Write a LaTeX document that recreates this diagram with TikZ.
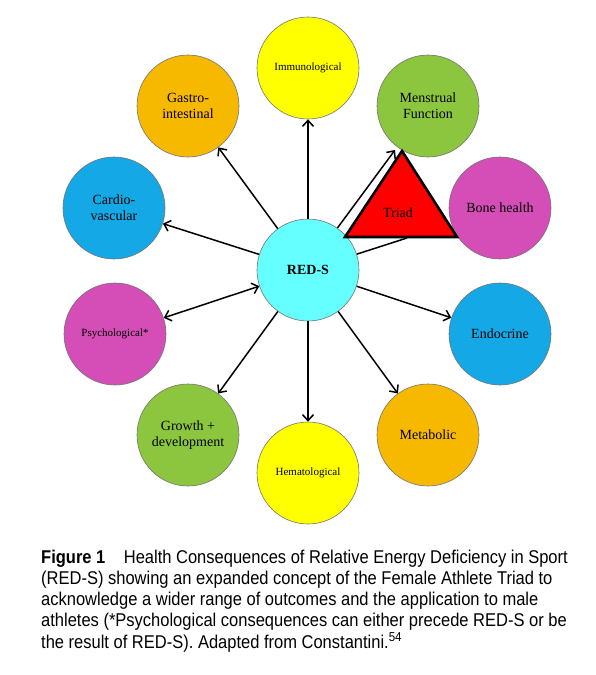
\documentclass[tikz,border=0pt]{standalone}
\usepackage{fontspec}
\setmainfont{Liberation Serif}
\newfontfamily\capfont[FakeStretch=0.892]{Liberation Sans}
\usetikzlibrary{arrows.meta}
\definecolor{cyanR}{HTML}{66FFFF}
\definecolor{yel}{HTML}{FFFF00}
\definecolor{org}{HTML}{F7B900}
\definecolor{grn}{HTML}{8CC63F}
\definecolor{mag}{HTML}{D54DB6}
\definecolor{blu}{HTML}{14A9E6}
\definecolor{triadred}{HTML}{FF0000}
\tikzset{
  bub/.style={circle, draw=black!55, line width=0.6pt, minimum size=102pt, inner sep=0pt,
    align=center, font=\fontsize{14}{16}\selectfont},
  smalltxt/.style={font=\fontsize{11}{13}\selectfont},
  arr/.style={line width=1.5pt, -{Straight Barb[length=6pt,width=11pt,line width=1.5pt]}},
  darr/.style={line width=1.5pt, {Straight Barb[length=6pt,width=11pt,line width=1.5pt]}-{Straight Barb[length=6pt,width=11pt,line width=1.5pt]}},
  plain/.style={line width=1.5pt},
  triadshape/.style={fill=triadred, draw=black, line width=2.6pt, line join=miter},
  captxt/.style={anchor=base west, inner sep=0pt, font=\capfont\fontsize{18.5}{21}\selectfont}
}
\begin{document}
\begin{tikzpicture}[x=1pt,y=-1pt]
\useasboundingbox (0,0) rectangle (595,675);
\fill[white] (0,0) rectangle (595,675);
% circles
\node[bub, fill=cyanR, font=\bfseries\fontsize{14}{16}\selectfont] (reds) at (308,270) {RED-S};
\node[bub, fill=yel, smalltxt] (imm) at (308,68) {Immunological};
\node[bub, fill=org] (gas) at (188,106) {Gastro-\\intestinal};
\node[bub, fill=grn] (men) at (428,106) {Menstrual\\Function};
\node[bub, fill=blu] (car) at (114,208) {Cardio-\\vascular};
\node[bub, fill=mag] (bone) at (500,208) {Bone health};
\node[bub, fill=mag, smalltxt] (psy) at (115,334) {Psychological*};
\node[bub, fill=blu] (endo) at (500,334) {Endocrine};
\node[bub, fill=grn] (gro) at (188,435) {Growth +\\development};
\node[bub, fill=yel, smalltxt] (hem) at (308,473) {Hematological};
\node[bub, fill=org] (met) at (428,435) {Metabolic};
% connectors
\draw[arr] (reds) -- (imm);
\draw[arr] (reds) -- (gas);
\draw[arr] (reds) -- (car);
\draw[darr] (reds) -- (psy);
\draw[arr] (reds) -- (gro);
\draw[arr] (reds) -- (hem);
\draw[arr] (reds) -- (met);
\draw[arr] (reds) -- (endo);
\coordinate (mtip) at (395,150);
\draw[arr] (reds.55) -- (mtip);
\coordinate (bend) at (407,238);
\draw[plain] (reds.18) -- (bend);
% triad
\coordinate (t1) at (345,237);
\coordinate (t2) at (457,237);
\coordinate (t3) at (402,151);
\draw[triadshape] (t1) -- (t2) -- (t3) -- cycle;
\node[font=\fontsize{14}{16}\selectfont] (triad) at (398,213) {Triad};
% caption
\node[captxt] (cap1) at (41,563) {\textbf{Figure 1}\quad Health Consequences of Relative Energy Deficiency in Sport};
\node[captxt] (cap2) at (41,584.3) {(RED-S) showing an expanded concept of the Female Athlete Triad to};
\node[captxt] (cap3) at (41,605.6) {acknowledge a wider range of outcomes and the application to male};
\node[captxt] (cap4) at (41,626.9) {athletes (*Psychological consequences can either precede RED-S or be};
\node[captxt] (cap5) at (41,648.2) {the result of RED-S). Adapted from Constantini.\textsuperscript{54}};
\end{tikzpicture}
\end{document}
